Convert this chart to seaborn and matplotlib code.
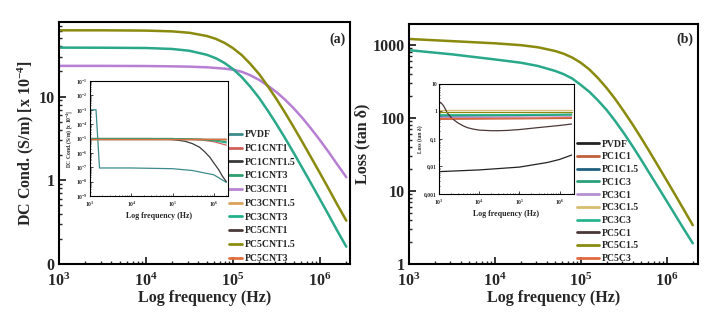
import numpy as np
import pandas as pd
import matplotlib
matplotlib.use("Agg")
import matplotlib.pyplot as plt
import seaborn as sns
from matplotlib.ticker import FixedLocator, FixedFormatter, LogLocator, NullFormatter

# ---------------- data ----------------
freq_main = [1e3, 3.16e3, 1e4, 2e4, 3.16e4, 5e4, 6.31e4, 7.94e4, 1e5, 1.26e5, 1.58e5,
             2e5, 2.51e5, 3.16e5, 3.98e5, 5.01e5, 6.31e5, 7.94e5, 1e6, 1.26e6, 1.58e6, 2e6]
# panel (a): DC conductivity [x 1e-4 S/m]
a_PC5CNT15 = [62, 62, 61.5, 60.2, 57.9, 53.0, 49.1, 44.0, 37.9, 31.3, 24.6,
              18.5, 13.3, 9.32, 6.36, 4.26, 2.82, 1.85, 1.21, 0.785, 0.509, 0.330]
a_PC3CNT3 = [38.5, 38.4, 38.1, 37.1, 35.3, 31.6, 28.8, 25.3, 21.3, 17.1, 13.1,
             9.6, 6.79, 4.68, 3.16, 2.10, 1.38, 0.904, 0.589, 0.382, 0.248, 0.161]
a_PC3CNT1 = [23.3, 23.3, 23.2, 23.0, 22.8, 22.4, 22.0, 21.6, 21.0, 19.8, 18.0,
             15.8, 13.5, 11.3, 9.14, 7.19, 5.50, 4.10, 3.00, 2.16, 1.54, 1.09]
# panel (b): loss (tan delta)
b_PC5C15 = [1210, 1130, 1055, 995, 931, 829, 759, 672, 570, 460, 352,
            256, 181, 123, 82, 53.4, 34.3, 21.8, 13.8, 8.7, 5.5, 3.4]
b_PC3C3 = [850, 745, 634, 572, 516, 442, 398, 347, 283, 227, 174,
           128, 90.5, 61.9, 41.2, 26.9, 17.3, 11.2, 7.2, 4.62, 2.99, 1.92]

# inset (a)
ia_labels = ["PVDF", "PC1CNT1", "PC1CNT1.5", "PC1CNT3", "PC3CNT1",
             "PC3CNT1.5", "PC3CNT3", "PC5CNT1", "PC5CNT1.5", "PC5CNT3"]
ia_freq = {
    "PVDF": [1e3, 1.4e3, 1.7e3, 1e4, 1e5, 3e5, 1e6, 2e6],
    "PC1CNT1": [1e3, 1e5, 5e5, 1e6, 2e6],
    "PC1CNT1.5": [1e3, 3e4, 1e5, 2e5, 3e5, 4.5e5, 6e5, 8e5, 1e6, 1.3e6, 1.6e6, 2e6],
    "PC1CNT3": [1e3, 1e5, 5e5, 1e6, 2e6],
    "PC3CNT1": [1e3, 2e6],
    "PC3CNT1.5": [1e3, 2e6],
    "PC3CNT3": [1e3, 1e5, 5e5, 1e6, 2e6],
    "PC5CNT1": [1e3, 2e6],
    "PC5CNT1.5": [1e3, 2e6],
    "PC5CNT3": [1e3, 2e6],
}
ia_vals = {
    "PVDF": [1e-3, 1e-3, 9e-8, 9e-8, 8e-8, 6e-8, 3e-8, 9e-9],
    "PC1CNT1": [1e-5, 1e-5, 8e-6, 6e-6, 3.5e-6],
    "PC1CNT1.5": [1e-5, 1e-5, 8.5e-6, 6.5e-6, 4.5e-6, 2.5e-6, 1.2e-6, 5e-7, 2e-7, 7e-8, 2.5e-8, 1e-8],
    "PC1CNT3": [1e-5, 1e-5, 9e-6, 8e-6, 6e-6],
    "PC3CNT1": [1e-5, 1e-5],
    "PC3CNT1.5": [1e-5, 1e-5],
    "PC3CNT3": [1e-5, 1e-5, 8.5e-6, 7e-6, 5e-6],
    "PC5CNT1": [1e-5, 1e-5],
    "PC5CNT1.5": [1e-5, 1e-5],
    "PC5CNT3": [1e-5, 1e-5],
}
ia_colors = ["#3d8b8b", "#d0605a", "#3a3a3a", "#2e9e6e", "#b784d4",
             "#d9a25a", "#20b08a", "#4a3a3a", "#8c8c14", "#e07040"]

# inset (b)
ib_labels = ["PVDF", "PC1C1", "PC1C1.5", "PC1C3", "PC3C1",
             "PC3C1.5", "PC3C3", "PC5C1", "PC5C1.5", "PC5C3"]
ib_freq = {
    "PVDF": [1e3, 1e4, 1e5, 5e5, 1e6, 2e6],
    "PC1C1": [1e3, 1e5, 2e6],
    "PC1C1.5": [1e3, 1e5, 2e6],
    "PC1C3": [1e3, 1e5, 2e6],
    "PC3C1": [1e3, 1e5, 2e6],
    "PC3C1.5": [1e3, 1e5, 2e6],
    "PC3C3": [1e3, 1e5, 2e6],
    "PC5C1": [1e3, 1.15e3, 1.3e3, 1.45e3, 1.6e3, 2e3, 2.5e3, 3e3, 4e3, 5e3, 7e3,
              1e4, 2e4, 3e4, 5e4, 1e5, 3e5, 1e6, 2e6],
    "PC5C1.5": [1e3, 1e5, 2e6],
    "PC5C3": [1e3, 1e5, 2e6],
}
ib_vals = {
    "PVDF": [0.0065, 0.0075, 0.0095, 0.014, 0.018, 0.026],
    "PC1C1": [0.52, 0.54, 0.56],
    "PC1C1.5": [0.68, 0.70, 0.78],
    "PC1C3": [0.72, 0.73, 0.74],
    "PC3C1": [0.60, 0.62, 0.64],
    "PC3C1.5": [1.15, 1.15, 1.15],
    "PC3C3": [0.76, 0.77, 0.80],
    "PC5C1": [2.3, 2.0, 1.6, 1.2, 0.9, 0.6, 0.46, 0.38, 0.30, 0.26, 0.23,
              0.21, 0.20, 0.20, 0.205, 0.22, 0.26, 0.31, 0.35],
    "PC5C1.5": [0.95, 0.95, 0.95],
    "PC5C3": [0.55, 0.57, 0.60],
}
ib_colors = ["#222222", "#c0603a", "#1f5f80", "#2aa07a", "#b58fd0",
             "#d8bc70", "#28b48e", "#4a3838", "#8a8a10", "#e06a40"]

# ---------------- style ----------------
sns.set_theme(style="ticks")
plt.rcParams["font.family"] = ["Liberation Serif", "DejaVu Serif"]
plt.rcParams["font.weight"] = "bold"
plt.rcParams["axes.labelweight"] = "bold"
plt.rcParams["mathtext.fontset"] = "custom"
plt.rcParams["mathtext.rm"] = "Liberation Serif:bold"
plt.rcParams["mathtext.it"] = "Liberation Serif:bold:italic"
plt.rcParams["mathtext.bf"] = "Liberation Serif:bold"
plt.rcParams["mathtext.default"] = "rm"

fig = plt.figure(figsize=(7.17, 3.23), dpi=100)
axA = fig.add_axes([0.0823, 0.1827, 0.4057, 0.7493])
axB = fig.add_axes([0.5704, 0.1827, 0.4031, 0.7430])
inA = fig.add_axes([0.1255, 0.393, 0.1925, 0.356])
inB = fig.add_axes([0.6123, 0.3994, 0.1883, 0.3406])

LW = 1.8
for vals, col in [(a_PC3CNT1, "#b77fd3"), (a_PC3CNT3, "#2aa88a"), (a_PC5CNT15, "#8a8a0e")]:
    sns.lineplot(x=freq_main, y=vals, ax=axA, color=col, lw=LW, legend=False)
for vals, col in [(b_PC3C3, "#2aa88a"), (b_PC5C15, "#8a8a0e")]:
    sns.lineplot(x=freq_main, y=vals, ax=axB, color=col, lw=LW, legend=False)

for lab, col in zip(ia_labels, ia_colors):
    sns.lineplot(x=ia_freq[lab], y=ia_vals[lab], ax=inA, color=col, lw=0.9, label=lab, legend=False)
for lab, col in zip(ib_labels, ib_colors):
    sns.lineplot(x=ib_freq[lab], y=ib_vals[lab], ax=inB, color=col, lw=0.9, label=lab, legend=False)

xt = [1e3, 1e4, 1e5, 1e6]
xtl = ["$10^{3}$", "$10^{4}$", "$10^{5}$", "$10^{6}$"]

def set_log_axes(ax, xmax, ylim, yt, ytl):
    ax.set_xscale("log")
    ax.set_yscale("log")
    ax.set_xlim(1e3, xmax)
    ax.set_ylim(*ylim)
    ax.xaxis.set_major_locator(FixedLocator(xt))
    ax.xaxis.set_major_formatter(FixedFormatter(xtl))
    ax.xaxis.set_minor_locator(LogLocator(base=10, subs=np.arange(2, 10)))
    ax.xaxis.set_minor_formatter(NullFormatter())
    ax.yaxis.set_major_locator(FixedLocator(yt))
    ax.yaxis.set_major_formatter(FixedFormatter(ytl))
    ax.yaxis.set_minor_locator(LogLocator(base=10, subs=np.arange(2, 10)))
    ax.yaxis.set_minor_formatter(NullFormatter())

def style_main(ax, xmax, ylim, yt, ytl, ylabel):
    set_log_axes(ax, xmax, ylim, yt, ytl)
    ax.tick_params(which="major", direction="in", length=5, width=1.3, labelsize=11.5,
                   top=False, right=False)
    ax.tick_params(axis="x", which="major", pad=6)
    ax.tick_params(axis="y", which="major", pad=3)
    ax.tick_params(which="minor", direction="in", length=2.5, width=1.0,
                   top=False, right=False)
    for sp in ax.spines.values():
        sp.set_linewidth(1.5)
        sp.set_color("black")
    ax.set_xlabel("Log frequency (Hz)", fontsize=11.5, fontweight="bold", labelpad=0)
    ax.set_ylabel(ylabel, fontsize=11.5, fontweight="bold", labelpad=2)

style_main(axA, 2.2e6, (0.1, 78), [0.1, 1, 10], ["0", "1", "10"],
           "DC Cond. (S/m) [x 10$^{-4}$]")
style_main(axB, 2.3e6, (1, 1940), [1, 10, 100, 1000], ["1", "10", "100", "1000"],
           "Loss (tan δ)")

axA.text(0.985, 0.955, "(a)", transform=axA.transAxes, ha="right", va="top",
         fontsize=10, fontweight="bold")
axB.text(0.985, 0.965, "(b)", transform=axB.transAxes, ha="right", va="top",
         fontsize=10, fontweight="bold")

def style_inset(ax, xmax, ylim, yt, ytl, ylabel):
    set_log_axes(ax, xmax, ylim, yt, ytl)
    ax.set_facecolor("white")
    ax.tick_params(which="major", direction="in", length=2, width=0.6, labelsize=4,
                   top=False, right=False, pad=1.5)
    ax.tick_params(axis="x", which="major", pad=2.5)
    ax.tick_params(which="minor", direction="in", length=1, width=0.5,
                   top=False, right=False)
    for sp in ax.spines.values():
        sp.set_linewidth(0.8)
        sp.set_color("black")
    ax.set_xlabel("Log frequency (Hz)", fontsize=5.7, fontweight="bold", labelpad=2)
    ax.set_ylabel(ylabel, fontsize=4, fontweight="bold", labelpad=1)

style_inset(inA, 2.2e6, (1e-9, 1e-1),
            [10.0 ** -k for k in range(1, 10)],
            ["$10^{-%d}$" % k for k in range(1, 10)],
            "DC Cond. (S/m) [x 10$^{-4}$]")
style_inset(inB, 2.3e6, (1e-3, 10), [1e-3, 1e-2, 1e-1, 1, 10],
            ["0,001", "0,01", "0,1", "1", "10"], "Loss (tan δ)")

hA, lA = inA.get_legend_handles_labels()
legA = axA.legend(hA, lA, loc="upper left", bbox_to_anchor=(0.585, 0.553),
                  frameon=False, fontsize=7, handlelength=1.3, handletextpad=0.3,
                  labelspacing=0.49, borderpad=0, borderaxespad=0)
for h in legA.get_lines():
    h.set_linewidth(2)
hB, lB = inB.get_legend_handles_labels()
legB = axB.legend(hB, lB, loc="upper left", bbox_to_anchor=(0.58, 0.5175),
                  frameon=False, fontsize=7, handlelength=2.3, handletextpad=0.3,
                  labelspacing=0.38, borderpad=0, borderaxespad=0)
for h in legB.get_lines():
    h.set_linewidth(2)

fig.savefig("out.png", dpi=100)
